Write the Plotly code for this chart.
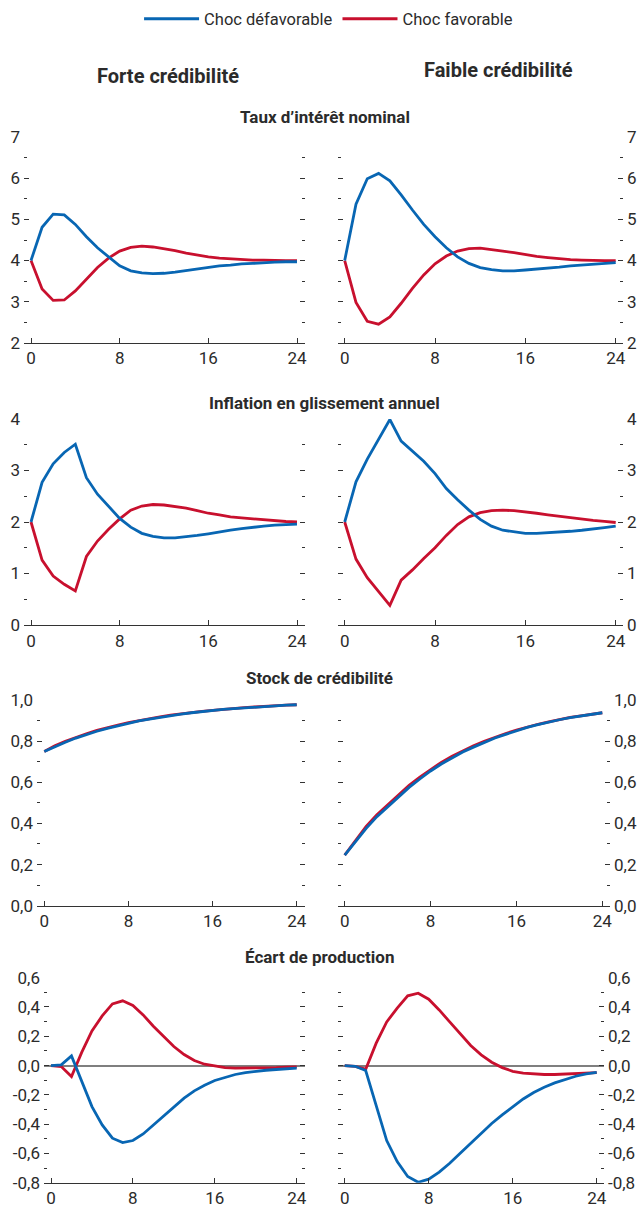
import plotly.graph_objects as go

# ---------------- data ----------------
quarters = list(range(25))

taux_forte_defav = [4.00, 4.81, 5.13, 5.11, 4.88, 4.58, 4.31, 4.08, 3.87, 3.75, 3.70, 3.68, 3.69,
                    3.72, 3.76, 3.80, 3.84, 3.87, 3.89, 3.92, 3.93, 3.95, 3.96, 3.97, 3.97]
taux_forte_fav = [4.00, 3.31, 3.03, 3.04, 3.26, 3.54, 3.83, 4.06, 4.23, 4.32, 4.35, 4.33, 4.29,
                  4.24, 4.18, 4.13, 4.09, 4.06, 4.04, 4.02, 4.01, 4.01, 4.00, 4.00, 4.00]
taux_faible_defav = [4.00, 5.37, 5.99, 6.12, 5.94, 5.60, 5.23, 4.88, 4.58, 4.31, 4.09, 3.93, 3.83,
                     3.78, 3.75, 3.75, 3.77, 3.79, 3.82, 3.84, 3.87, 3.89, 3.91, 3.93, 3.95]
taux_faible_fav = [4.00, 2.98, 2.52, 2.45, 2.63, 2.96, 3.32, 3.65, 3.92, 4.11, 4.23, 4.29, 4.30,
                   4.27, 4.23, 4.19, 4.14, 4.10, 4.07, 4.04, 4.02, 4.01, 4.00, 4.00, 4.00]

infl_forte_defav = [2.00, 2.77, 3.13, 3.35, 3.51, 2.86, 2.54, 2.30, 2.07, 1.90, 1.78, 1.72, 1.69,
                    1.69, 1.71, 1.74, 1.77, 1.81, 1.84, 1.87, 1.90, 1.92, 1.94, 1.95, 1.96]
infl_forte_fav = [2.00, 1.26, 0.95, 0.79, 0.66, 1.33, 1.63, 1.86, 2.06, 2.23, 2.31, 2.34, 2.33,
                  2.30, 2.27, 2.22, 2.17, 2.14, 2.10, 2.08, 2.06, 2.04, 2.03, 2.01, 2.00]
infl_faible_defav = [2.00, 2.78, 3.22, 3.61, 3.99, 3.57, 3.38, 3.18, 2.94, 2.65, 2.43, 2.23, 2.05,
                     1.92, 1.84, 1.81, 1.78, 1.78, 1.79, 1.80, 1.82, 1.84, 1.86, 1.89, 1.92]
infl_faible_fav = [2.00, 1.28, 0.92, 0.66, 0.38, 0.87, 1.07, 1.29, 1.50, 1.74, 1.95, 2.10, 2.18,
                   2.22, 2.23, 2.22, 2.20, 2.17, 2.14, 2.11, 2.08, 2.05, 2.03, 2.01, 1.99]

stock_forte_defav = [0.750, 0.774, 0.795, 0.815, 0.832, 0.848, 0.862, 0.875, 0.887, 0.898, 0.907,
                     0.916, 0.924, 0.931, 0.938, 0.944, 0.949, 0.954, 0.958, 0.962, 0.966, 0.969,
                     0.972, 0.975, 0.977]
stock_forte_fav = [0.750, 0.777, 0.799, 0.819, 0.836, 0.852, 0.866, 0.878, 0.890, 0.900, 0.909,
                   0.918, 0.926, 0.933, 0.939, 0.945, 0.950, 0.955, 0.959, 0.963, 0.966, 0.970,
                   0.973, 0.975, 0.977]
stock_faible_defav = [0.246, 0.311, 0.376, 0.433, 0.481, 0.530, 0.575, 0.616, 0.655, 0.689, 0.720,
                      0.747, 0.771, 0.794, 0.815, 0.833, 0.851, 0.867, 0.880, 0.893, 0.904, 0.914,
                      0.922, 0.930, 0.938]
stock_faible_fav = [0.246, 0.318, 0.385, 0.442, 0.491, 0.540, 0.585, 0.625, 0.663, 0.697, 0.727,
                    0.753, 0.777, 0.799, 0.819, 0.837, 0.854, 0.869, 0.882, 0.894, 0.905, 0.915,
                    0.923, 0.931, 0.938]

ecart_forte_defav = [0.000, 0.005, 0.066, -0.110, -0.280, -0.405, -0.496, -0.526, -0.512, -0.467,
                     -0.405, -0.341, -0.280, -0.223, -0.173, -0.134, -0.102, -0.080, -0.061,
                     -0.048, -0.039, -0.032, -0.027, -0.023, -0.018]
ecart_forte_fav = [0.000, -0.007, -0.075, 0.090, 0.237, 0.339, 0.421, 0.442, 0.410, 0.346, 0.269,
                   0.196, 0.130, 0.075, 0.034, 0.009, -0.005, -0.014, -0.018, -0.018, -0.018,
                   -0.016, -0.014, -0.011, -0.009]
ecart_faible_defav = [0.000, -0.005, -0.034, -0.280, -0.512, -0.656, -0.758, -0.797, -0.776,
                      -0.728, -0.667, -0.599, -0.530, -0.462, -0.396, -0.337, -0.280, -0.228,
                      -0.184, -0.148, -0.118, -0.093, -0.073, -0.057, -0.046]
ecart_faible_fav = [0.000, -0.005, -0.025, 0.153, 0.298, 0.392, 0.476, 0.494, 0.453, 0.380, 0.298,
                    0.214, 0.137, 0.073, 0.023, -0.014, -0.039, -0.052, -0.059, -0.061, -0.061,
                    -0.059, -0.057, -0.052, -0.048]

x_tickvals = [0, 8, 16, 24]
x_ticktext = ["0", "8", "16", "24"]

taux_tickvals = [2, 3, 4, 5, 6, 7]
taux_ticktext = ["2", "3", "4", "5", "6", "7"]
infl_tickvals = [0, 1, 2, 3, 4]
infl_ticktext = ["0", "1", "2", "3", "4"]
stock_tickvals = [0.0, 0.2, 0.4, 0.6, 0.8, 1.0]
stock_ticktext = ["0,0", "0,2", "0,4", "0,6", "0,8", "1,0"]
ecart_tickvals = [-0.8, -0.6, -0.4, -0.2, 0.0, 0.2, 0.4, 0.6]
ecart_ticktext = ["-0,8", "-0,6", "-0,4", "-0,2", "0,0", "0,2", "0,4", "0,6"]

legend_names = ["Choc défavorable", "Choc favorable"]
column_titles = ["Forte crédibilité", "Faible crédibilité"]
panel_titles = ["Taux d’intérêt nominal", "Inflation en glissement annuel",
                "Stock de crédibilité", "Écart de production"]

# ---------------- styling / layout ----------------
W, H = 638, 1208
BLUE = "#0866b3"
RED = "#c8102e"
FONT = "Roboto, Liberation Sans, sans-serif"
TXT = "#2b2b2b"
TICKSZ = 17

rows = [
    dict(defav=(taux_forte_defav, taux_faible_defav), fav=(taux_forte_fav, taux_faible_fav),
         rng=[2, 7], tv=taux_tickvals, tt=taux_ticktext, minor=0.5, top=137.3, bot=342.7,
         zero=False,
         px=[(24, 305, 31, 297), (338, 623, 344.7, 615.7)]),
    dict(defav=(infl_forte_defav, infl_faible_defav), fav=(infl_forte_fav, infl_faible_fav),
         rng=[0, 4], tv=infl_tickvals, tt=infl_ticktext, minor=0.5, top=419, bot=625,
         zero=False,
         px=[(24, 305, 31, 297), (338, 623, 344.7, 615.7)]),
    dict(defav=(stock_forte_defav, stock_faible_defav), fav=(stock_forte_fav, stock_faible_fav),
         rng=[0, 1], tv=stock_tickvals, tt=stock_ticktext, minor=0.1, top=700, bot=905.7,
         zero=False,
         px=[(37, 305, 44.3, 296.7), (338, 610, 344.7, 602.3)]),
    dict(defav=(ecart_forte_defav, ecart_faible_defav), fav=(ecart_forte_fav, ecart_faible_fav),
         rng=[-0.8, 0.6], tv=ecart_tickvals, tt=ecart_ticktext, minor=0.1, top=977.7, bot=1182.7,
         zero=True,
         px=[(44, 305, 51, 296.7), (338, 604, 344.7, 596.7)]),
]

fig = go.Figure()
layout = dict(
    width=W, height=H, margin=dict(l=0, r=0, t=0, b=0, autoexpand=False),
    paper_bgcolor="white", plot_bgcolor="white",
    font=dict(family=FONT, size=TICKSZ, color=TXT),
    separators=", ",
    showlegend=True,
    legend=dict(orientation="h", x=0.515, xanchor="center", y=1 - 19 / H, yanchor="middle",
                font=dict(size=16.5, color=TXT), itemwidth=55, bgcolor="rgba(0,0,0,0)",
                tracegroupgap=0, itemclick=False),
)

annotations = []
idx = 0
for r, row in enumerate(rows):
    for c in range(2):
        idx += 1
        xa = "x" if idx == 1 else f"x{idx}"
        ya = "y" if idx == 1 else f"y{idx}"
        L, R, x0, x24 = row["px"][c]
        ppu = (x24 - x0) / 24.0
        xr = [(L - x0) / ppu, 24 + (R - x24) / ppu]
        # red first, blue on top
        fig.add_trace(go.Scatter(x=quarters, y=row["fav"][c], mode="lines", name=legend_names[1],
                                 line=dict(color=RED, width=2.8), xaxis=xa, yaxis=ya,
                                 showlegend=(idx == 1), legendrank=2, hoverinfo="skip"))
        fig.add_trace(go.Scatter(x=quarters, y=row["defav"][c], mode="lines", name=legend_names[0],
                                 line=dict(color=BLUE, width=2.8), xaxis=xa, yaxis=ya,
                                 showlegend=(idx == 1), legendrank=1, hoverinfo="skip"))
        xkey = "xaxis" if idx == 1 else f"xaxis{idx}"
        ykey = "yaxis" if idx == 1 else f"yaxis{idx}"
        layout[xkey] = dict(
            domain=[L / W, R / W], range=xr, anchor=ya,
            tickmode="array", tickvals=x_tickvals, ticktext=x_ticktext,
            ticks="inside", ticklen=5, tickwidth=1.2, tickcolor="#333333",
            showline=True, linecolor="#333333", linewidth=1.2,
            showgrid=False, zeroline=False, fixedrange=True,
            tickfont=dict(size=TICKSZ, color=TXT, family=FONT),
        )
        layout[ykey] = dict(
            domain=[1 - row["bot"] / H, 1 - row["top"] / H], range=row["rng"], anchor=xa,
            side="left" if c == 0 else "right",
            tickmode="array", tickvals=row["tv"], ticktext=row["tt"],
            ticks="inside", ticklen=5, tickwidth=1.2, tickcolor="#333333",
            mirror="ticks", showline=False, ticklabelstandoff=3,
            minor=dict(tickmode="linear", tick0=0, dtick=row["minor"], ticks="inside",
                       ticklen=3, tickwidth=1.2, tickcolor="#333333", showgrid=False),
            showgrid=False, zeroline=row["zero"], zerolinecolor="#7f7f7f", zerolinewidth=1.5,
            fixedrange=True,
            tickfont=dict(size=TICKSZ, color=TXT, family=FONT),
        )

# panel titles
title_pos = [(325, 117), (324, 403), (320, 678), (319, 957)]
for t, (px_x, px_y) in zip(panel_titles, title_pos):
    annotations.append(dict(text=f"<b>{t}</b>", x=px_x / W, y=1 - px_y / H, xref="paper",
                            yref="paper", xanchor="center", yanchor="middle", showarrow=False,
                            font=dict(size=17, color=TXT, family=FONT)))
# column titles
col_pos = [(168, 76), (498, 70)]
for t, (px_x, px_y) in zip(column_titles, col_pos):
    annotations.append(dict(text=f"<b>{t}</b>", x=px_x / W, y=1 - px_y / H, xref="paper",
                            yref="paper", xanchor="center", yanchor="middle", showarrow=False,
                            font=dict(size=20, color=TXT, family=FONT)))
layout["annotations"] = annotations

fig.update_layout(**layout)
fig.write_html("out.html", config={"displayModeBar": False},
               post_script="document.body.style.margin='0';document.body.style.overflow='hidden';")
